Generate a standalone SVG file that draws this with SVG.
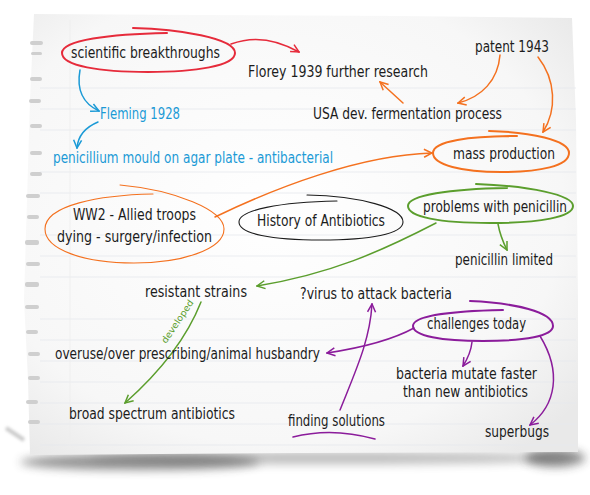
<svg xmlns="http://www.w3.org/2000/svg" width="590" height="495" viewBox="0 0 590 495">
<defs>
<filter id="blur6" x="-20%" y="-200%" width="140%" height="500%"><feGaussianBlur stdDeviation="5"/></filter>
<filter id="blur2" x="-20%" y="-50%" width="140%" height="200%"><feGaussianBlur stdDeviation="1.5"/></filter>
<radialGradient id="paperGrad" cx="0.45" cy="0.45" r="0.7">
<stop offset="0" stop-color="#ffffff"/>
<stop offset="0.75" stop-color="#f7f7f7"/>
<stop offset="1" stop-color="#e9e9e9"/>
</radialGradient>
<marker id="ah-red" viewBox="0 0 10 10" refX="9" refY="5" markerWidth="10" markerHeight="10" markerUnits="userSpaceOnUse" orient="auto"><path d="M1,1 L9,5 L1,9" fill="none" stroke="#e62b3b" stroke-width="1.5"/></marker>
<marker id="ah-blue" viewBox="0 0 10 10" refX="9" refY="5" markerWidth="10" markerHeight="10" markerUnits="userSpaceOnUse" orient="auto"><path d="M1,1 L9,5 L1,9" fill="none" stroke="#1b9ad6" stroke-width="1.5"/></marker>
<marker id="ah-orange" viewBox="0 0 10 10" refX="9" refY="5" markerWidth="10" markerHeight="10" markerUnits="userSpaceOnUse" orient="auto"><path d="M1,1 L9,5 L1,9" fill="none" stroke="#f4711f" stroke-width="1.5"/></marker>
<marker id="ah-green" viewBox="0 0 10 10" refX="9" refY="5" markerWidth="10" markerHeight="10" markerUnits="userSpaceOnUse" orient="auto"><path d="M1,1 L9,5 L1,9" fill="none" stroke="#5b9e2d" stroke-width="1.5"/></marker>
<marker id="ah-purple" viewBox="0 0 10 10" refX="9" refY="5" markerWidth="10" markerHeight="10" markerUnits="userSpaceOnUse" orient="auto"><path d="M1,1 L9,5 L1,9" fill="none" stroke="#8b1c9b" stroke-width="1.5"/></marker>
</defs>
<style>
text{font-family:"Liberation Sans Narrow","DejaVu Sans Condensed","Liberation Sans",sans-serif;font-size:15px;fill:#1c1c1c}
.blue{fill:#1b9ad6}
.small{font-size:9px;fill:#5b9e2d}
.oval{fill:none;stroke-linecap:round}
.con{fill:none;stroke-width:1.5;stroke-linecap:round}
.red{stroke:#e62b3b}
.bl{stroke:#1b9ad6}
.or{stroke:#f4711f}
.gr{stroke:#5b9e2d}
.pu{stroke:#8b1c9b}
.rule{stroke:#e6e9ee;stroke-width:0.8}
.hole{fill:#cfcfcf}
</style>

<!-- paper -->
<g id="paper">
<ellipse cx="140" cy="462" rx="120" ry="8" fill="#3a3a3a" opacity="0.55" filter="url(#blur6)"/>
<ellipse cx="330" cy="458" rx="240" ry="6" fill="#555" opacity="0.4" filter="url(#blur6)"/>
<ellipse cx="555" cy="458" rx="30" ry="9" fill="#333" opacity="0.55" filter="url(#blur6)"/>
<path d="M6,428 L24,440" stroke="#999" stroke-width="4" opacity="0.5" filter="url(#blur2)"/>
<path d="M34,14 L200,15 L400,16 L572,18 L576,120 L578,300 L578,452 L300,453 L30,455 L28,380 L24,300 L27,200 L30,100 Z" fill="url(#paperGrad)"/>
<g>
<line class="rule" x1="40" y1="88" x2="576" y2="88"/>
<line class="rule" x1="40" y1="109" x2="576" y2="109"/>
<line class="rule" x1="40" y1="130" x2="576" y2="130"/>
<line class="rule" x1="40" y1="172" x2="576" y2="172"/>
<line class="rule" x1="40" y1="193" x2="576" y2="193"/>
<line class="rule" x1="40" y1="235" x2="576" y2="235"/>
<line class="rule" x1="40" y1="256" x2="576" y2="256"/>
<line class="rule" x1="40" y1="277" x2="576" y2="277"/>
<line class="rule" x1="40" y1="319" x2="576" y2="319"/>
<line class="rule" x1="40" y1="340" x2="576" y2="340"/>
<line class="rule" x1="40" y1="361" x2="576" y2="361"/>
<line class="rule" x1="40" y1="382" x2="576" y2="382"/>
<line class="rule" x1="40" y1="403" x2="576" y2="403"/>
<line class="rule" x1="40" y1="424" x2="576" y2="424"/>
<line class="rule" x1="40" y1="445" x2="576" y2="445"/>
<line x1="70" y1="20" x2="70" y2="452" stroke="#eeeeee" stroke-width="0.8"/>
</g>
<g>
<rect class="hole" x="30" y="41" width="13" height="4" rx="2"/>
<rect class="hole" x="31" y="52" width="11" height="3" rx="1.5"/>
<rect class="hole" x="30" y="77" width="12" height="4" rx="2"/>
<rect class="hole" x="29" y="99" width="12" height="4" rx="2"/>
<rect class="hole" x="30" y="124" width="12" height="4" rx="2"/>
<rect class="hole" x="30" y="151" width="12" height="4" rx="2"/>
<rect class="hole" x="30" y="172" width="12" height="4" rx="2"/>
<rect class="hole" x="26" y="194" width="14" height="4" rx="2"/>
<rect class="hole" x="27" y="215" width="12" height="4" rx="2"/>
<rect class="hole" x="25" y="240" width="14" height="5" rx="2"/>
<rect class="hole" x="26" y="262" width="14" height="4" rx="2"/>
<rect class="hole" x="25" y="282" width="14" height="5" rx="2"/>
<rect class="hole" x="25" y="305" width="14" height="4" rx="2"/>
<rect class="hole" x="26" y="330" width="12" height="4" rx="2"/>
<rect class="hole" x="28" y="352" width="12" height="4" rx="2"/>
<rect class="hole" x="28" y="376" width="12" height="4" rx="2"/>
<rect class="hole" x="26" y="400" width="12" height="4" rx="2"/>
<rect class="hole" x="28" y="420" width="12" height="4" rx="2"/>
</g>
</g>

<!-- connectors -->
<g id="connectors">
<path class="con red" d="M231,44 C252,36 276,39 299,52" marker-end="url(#ah-red)"/>
<path class="con bl" d="M80,70 C76,92 84,104 99,111" marker-end="url(#ah-blue)"/>
<path class="con bl" d="M98,122 C86,127 78,135 77,148" marker-end="url(#ah-blue)"/>
<path class="con or" d="M500,55 C498,80 482,97 458,103" marker-end="url(#ah-orange)"/>
<path class="con or" d="M538,57 C556,80 557,110 543,132" marker-end="url(#ah-orange)"/>
<path class="con or" d="M403,103 L380,82" marker-end="url(#ah-orange)"/>
<path class="con or" d="M215,217 C275,188 360,155 432,153" marker-end="url(#ah-orange)"/>
<path class="con gr" d="M498,224 C500,235 503,242 507,250" marker-end="url(#ah-green)"/>
<path class="con gr" d="M436,223 C380,252 330,274 257,286" marker-end="url(#ah-green)"/>
<path class="con gr" d="M201,302 C186,340 160,372 125,403" marker-end="url(#ah-green)"/>
<text class="small" x="166" y="344" textLength="50" lengthAdjust="spacingAndGlyphs" transform="rotate(-56 166 344)">developed</text>
<path class="con pu" d="M414,328 C392,340 360,348 327,353" marker-end="url(#ah-purple)"/>
<path class="con pu" d="M472,342 C471,352 468,358 463,366" marker-end="url(#ah-purple)"/>
<path class="con pu" d="M540,336 C562,372 556,405 530,425" marker-end="url(#ah-purple)"/>
<path class="con pu" d="M340,410 C356,370 370,340 372,304" marker-end="url(#ah-purple)"/>
</g>

<!-- nodes -->
<g id="n-scientific">
<path class="oval red" stroke-width="2" d="M133,28 C178,29 235,38 235,53 C235,66 195,72 148,72 C100,72 62,66 62,53 C62,40 110,34 167,33"/>
<text x="71" y="58" textLength="149" lengthAdjust="spacingAndGlyphs">scientific breakthroughs</text>
</g>
<g id="n-florey">
<text x="248" y="77" textLength="180" lengthAdjust="spacingAndGlyphs">Florey 1939 further research</text>
</g>
<g id="n-patent">
<text x="475" y="52" textLength="74" lengthAdjust="spacingAndGlyphs">patent 1943</text>
</g>
<g id="n-usa">
<text x="313" y="119" textLength="189" lengthAdjust="spacingAndGlyphs">USA dev. fermentation process</text>
</g>
<g id="n-mass">
<path class="oval or" stroke-width="2" d="M489,131 C530,132 569,140 569,153 C569,166 540,172 501,172 C462,172 433,165 433,153 C433,141 470,136 517,136"/>
<text x="453" y="159" textLength="102" lengthAdjust="spacingAndGlyphs">mass production</text>
</g>
<g id="n-fleming">
<text class="blue" x="100" y="119" textLength="80" lengthAdjust="spacingAndGlyphs">Fleming 1928</text>
</g>
<g id="n-penicillium">
<text class="blue" x="53" y="163" textLength="280" lengthAdjust="spacingAndGlyphs">penicillium mould on agar plate - antibacterial</text>
</g>
<g id="n-ww2">
<path class="oval or" stroke-width="1.1" d="M120,185 C175,190 224,210 224,229 C224,250 180,263 134,263 C85,263 45,250 45,229 C45,205 100,195 153,194"/>
<text x="73" y="220" textLength="123" lengthAdjust="spacingAndGlyphs">WW2 - Allied troops</text>
<text x="57" y="242" textLength="155" lengthAdjust="spacingAndGlyphs">dying - surgery/infection</text>
</g>
<g id="n-history">
<path class="oval" stroke="#1c1c1c" stroke-width="1.1" d="M307,195 C360,196 403,208 403,222 C403,234 370,240 321,240 C272,240 239,234 239,222 C239,210 280,202 337,201"/>
<text x="257" y="226" textLength="128" lengthAdjust="spacingAndGlyphs">History of Antibiotics</text>
</g>
<g id="n-problems">
<path class="oval gr" stroke-width="2" d="M476,184 C530,186 573,195 573,206 C573,217 540,223 490,223 C440,223 408,217 408,206 C408,195 450,189 507,188"/>
<text x="423" y="212" textLength="144" lengthAdjust="spacingAndGlyphs">problems with penicillin</text>
</g>
<g id="n-limited">
<text x="455" y="265" textLength="98" lengthAdjust="spacingAndGlyphs">penicillin limited</text>
</g>
<g id="n-resistant">
<text x="145" y="297" textLength="102" lengthAdjust="spacingAndGlyphs">resistant strains</text>
</g>
<g id="n-virus">
<text x="300" y="299" textLength="152" lengthAdjust="spacingAndGlyphs">?virus to attack bacteria</text>
</g>
<g id="n-challenges">
<path class="oval pu" stroke-width="2" d="M470,301 C515,303 553,312 553,326 C553,336 525,341 483,341 C442,341 413,336 413,326 C413,316 450,311 503,310"/>
<text x="427" y="329" textLength="99" lengthAdjust="spacingAndGlyphs">challenges today</text>
</g>
<g id="n-overuse">
<text x="55" y="359" textLength="265" lengthAdjust="spacingAndGlyphs">overuse/over prescribing/animal husbandry</text>
</g>
<g id="n-broad">
<text x="69" y="419" textLength="166" lengthAdjust="spacingAndGlyphs">broad spectrum antibiotics</text>
</g>
<g id="n-finding">
<text x="288" y="426" textLength="97" lengthAdjust="spacingAndGlyphs">finding solutions</text>
<path class="oval pu" stroke-width="1.5" d="M293,437 C320,430 350,432 375,439"/>
</g>
<g id="n-mutate">
<text x="396" y="379" textLength="141" lengthAdjust="spacingAndGlyphs">bacteria mutate faster</text>
<text x="403" y="397" textLength="125" lengthAdjust="spacingAndGlyphs">than new antibiotics</text>
</g>
<g id="n-superbugs">
<text x="485" y="437" textLength="64" lengthAdjust="spacingAndGlyphs">superbugs</text>
</g>
</svg>
